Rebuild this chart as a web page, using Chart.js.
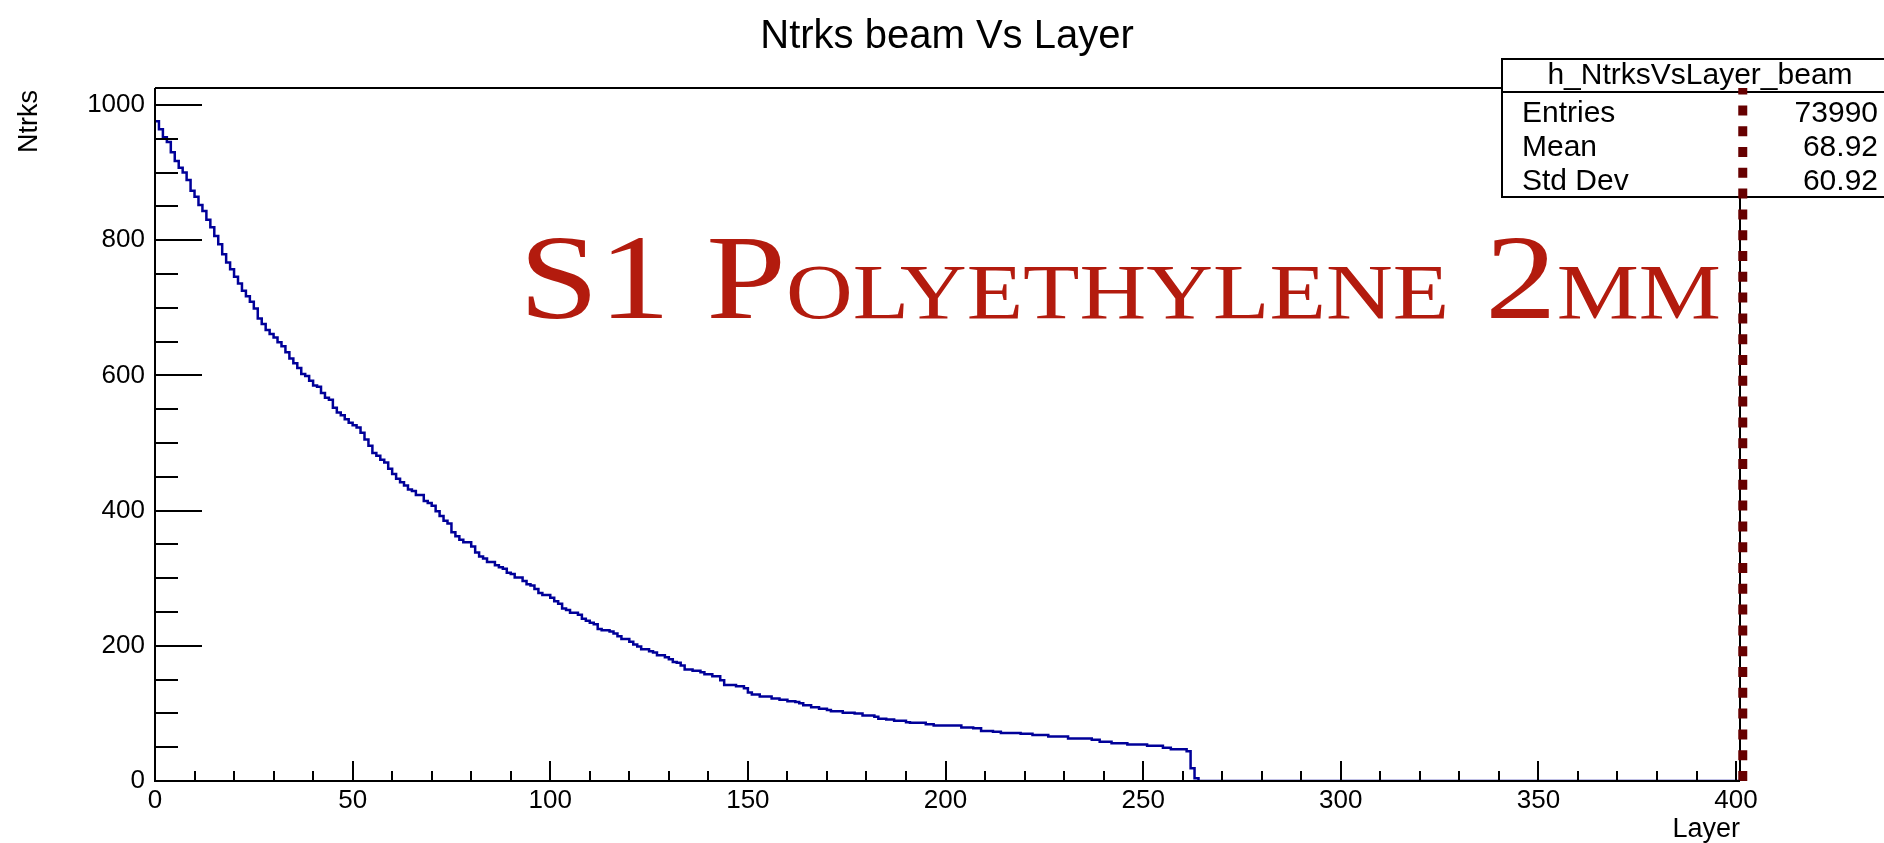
<!DOCTYPE html>
<html>
<head>
<meta charset="utf-8">
<title>Ntrks beam Vs Layer</title>
<script src="https://cdn.jsdelivr.net/npm/chart.js@4.4.1/dist/chart.umd.min.js"></script>
<style>
  html, body { margin: 0; padding: 0; background: #fff; }
  #wrap { width: 1884px; height: 843px; position: relative; }
</style>
</head>
<body>
<div id="wrap"><canvas id="plot"></canvas></div>
<script>
// Dati: conteggi per layer (bin larghi 1, da 0 a 263)
const layerCounts = [
  976, 964, 952, 945, 930, 917, 907, 900, 889, 873,
  864, 852, 843, 830, 819, 806, 794, 779, 767, 757,
  746, 736, 725, 717, 709, 699, 684, 676, 667, 661,
  656, 649, 643, 634, 625, 618, 611, 602, 599, 592,
  585, 583, 574, 567, 564, 552, 545, 541, 535, 530,
  526, 523, 515, 505, 496, 485, 481, 475, 471, 462,
  454, 447, 442, 437, 431, 429, 423, 423, 414, 411,
  407, 399, 392, 385, 381, 368, 362, 357, 353, 353,
  347, 338, 332, 329, 324, 324, 319, 316, 314, 308,
  306, 301, 301, 296, 291, 289, 284, 278, 275, 275,
  271, 266, 262, 255, 253, 249, 249, 246, 240, 237,
  234, 232, 225, 223, 223, 221, 218, 214, 210, 210,
  206, 202, 199, 195, 195, 192, 190, 186, 186, 183,
  180, 176, 175, 171, 165, 165, 163, 163, 161, 158,
  158, 155, 155, 149, 142, 142, 142, 140, 140, 137,
  131, 128, 128, 125, 125, 125, 122, 122, 120, 120,
  118, 118, 117, 115, 112, 112, 109, 109, 107, 107,
  105, 103, 103, 103, 101, 101, 101, 100, 100, 97,
  97, 97, 95, 92, 92, 91, 91, 89, 89, 89,
  87, 86, 86, 86, 86, 84, 84, 82, 82, 82,
  82, 82, 82, 82, 79, 79, 79, 78, 78, 74,
  74, 74, 73, 73, 71, 71, 71, 71, 71, 70,
  70, 70, 68, 68, 68, 68, 66, 66, 66, 66,
  66, 63, 63, 63, 63, 63, 63, 61, 61, 58,
  58, 58, 56, 56, 56, 56, 54, 54, 54, 54,
  54, 52, 52, 52, 52, 49, 49, 47, 47, 47,
  47, 44, 19, 4
];

// Assi
const xMax = 401;
const yMax = 1025;
const xTickLabels = [0, 50, 100, 150, 200, 250, 300, 350, 400];
const xMinorTicks = [10, 20, 30, 40, 60, 70, 80, 90, 110, 120, 130, 140, 160, 170, 180, 190,
  210, 220, 230, 240, 260, 270, 280, 290, 310, 320, 330, 340, 360, 370, 380, 390];
const yTickLabels = [0, 200, 400, 600, 800, 1000];
const yMinorTicks = [50, 100, 150, 250, 300, 350, 450, 500, 550, 650, 700, 750, 850, 900, 950];

// Linea tratteggiata (fine del rivelatore)
const cutLayer = [401.7];

// Box statistiche
const statsTitle = 'h_NtrksVsLayer_beam';
const statsNames = ['Entries', 'Mean', 'Std Dev'];
const statsValues = ['73990', '68.92', '60.92'];

const SANS = '"Liberation Sans", Arial, Helvetica, sans-serif';
const SERIF = '"Liberation Serif", "Times New Roman", serif';

// Punti del istogramma (bordo basso di ogni bin)
const histPoints = layerCounts.map((v, i) => ({ x: i, y: v }));
histPoints.push({ x: layerCounts.length, y: 0 });
histPoints.push({ x: xMax, y: 0 });

const cutPoints = [{ x: cutLayer[0], y: 0 }, { x: cutLayer[0], y: yMax }];

// Titolo, cornice, box statistiche e scritta grande (sotto le linee)
const backgroundPlugin = {
  id: 'rootBackground',
  beforeDatasetsDraw(chart) {
    const { ctx, chartArea: a } = chart;
    ctx.save();
    ctx.fillStyle = '#000';
    ctx.font = '40px ' + SANS;
    ctx.textAlign = 'center';
    ctx.textBaseline = 'alphabetic';
    ctx.fillText('Ntrks beam Vs Layer', 947, 48);

    ctx.strokeStyle = '#000';
    ctx.lineWidth = 2;
    ctx.beginPath();
    ctx.moveTo(a.left, a.top);
    ctx.lineTo(a.right, a.top);
    ctx.lineTo(a.right, a.bottom);
    ctx.stroke();

    // box statistiche
    const bx = 1502, by = 59, bw = 390, bh = 138, div = 92;
    ctx.fillStyle = '#fff';
    ctx.fillRect(bx, by, bw, bh);
    ctx.lineWidth = 2;
    ctx.strokeRect(bx, by, bw, bh);
    ctx.beginPath();
    ctx.moveTo(bx, div);
    ctx.lineTo(bx + bw, div);
    ctx.stroke();
    ctx.fillStyle = '#000';
    ctx.font = '30px ' + SANS;
    ctx.textAlign = 'center';
    ctx.textBaseline = 'alphabetic';
    ctx.fillText(statsTitle, 1700, 84);
    const baselines = [122, 156, 190];
    statsNames.forEach((n, i) => {
      ctx.textAlign = 'left';
      ctx.fillText(n, 1522, baselines[i]);
      ctx.textAlign = 'right';
      ctx.fillText(statsValues[i], 1878, baselines[i]);
    });

    // scritta "S1 Polyethylene 2mm" in maiuscoletto
    const parts = [
      { t: 'S1 P', s: 121 },
      { t: 'OLYETHYLENE', s: 78 },
      { t: ' 2', s: 121 },
      { t: 'MM', s: 78 }
    ];
    let total = 0;
    parts.forEach(p => {
      ctx.font = p.s + 'px ' + SERIF;
      p.w = ctx.measureText(p.t).width;
      total += p.w;
    });
    const x0 = 519, targetW = 1202, base = 318;
    const k = targetW / total;
    ctx.translate(x0, base);
    ctx.scale(k, 1);
    ctx.fillStyle = '#b31b0e';
    ctx.textAlign = 'left';
    let cx = 0;
    parts.forEach(p => {
      ctx.font = p.s + 'px ' + SERIF;
      ctx.fillText(p.t, cx, 0);
      cx += p.w;
    });
    ctx.restore();
  }
};

// Assi a sinistra e in basso con tacche verso l'interno, titoli degli assi
const axesPlugin = {
  id: 'rootAxes',
  afterDatasetsDraw(chart) {
    const { ctx, chartArea: a } = chart;
    const xs = chart.scales.x, ys = chart.scales.y;
    ctx.save();
    ctx.strokeStyle = '#000';
    ctx.lineWidth = 2;
    ctx.beginPath();
    ctx.moveTo(a.left, a.top);
    ctx.lineTo(a.left, a.bottom);
    ctx.lineTo(a.right, a.bottom);
    ctx.stroke();

    ctx.beginPath();
    yTickLabels.forEach(v => {
      const py = Math.round(ys.getPixelForValue(v));
      ctx.moveTo(a.left, py); ctx.lineTo(a.left + 47, py);
    });
    yMinorTicks.forEach(v => {
      const py = Math.round(ys.getPixelForValue(v));
      ctx.moveTo(a.left, py); ctx.lineTo(a.left + 23, py);
    });
    xTickLabels.forEach(v => {
      const px = Math.round(xs.getPixelForValue(v));
      ctx.moveTo(px, a.bottom); ctx.lineTo(px, a.bottom - 20);
    });
    xMinorTicks.forEach(v => {
      const px = Math.round(xs.getPixelForValue(v));
      ctx.moveTo(px, a.bottom); ctx.lineTo(px, a.bottom - 10);
    });
    ctx.stroke();

    ctx.fillStyle = '#000';
    ctx.font = '27px ' + SANS;
    ctx.textAlign = 'right';
    ctx.textBaseline = 'alphabetic';
    ctx.fillText('Layer', a.right, 837);

    ctx.translate(37, a.top + 2);
    ctx.rotate(-Math.PI / 2);
    ctx.fillText('Ntrks', 0, 0);
    ctx.restore();
  }
};

const tickFont = { family: SANS, size: 26 };

new Chart(document.getElementById('plot'), {
  type: 'line',
  data: {
    datasets: [
      {
        data: cutPoints,
        borderColor: '#660000',
        borderWidth: 9,
        borderDash: [10, 10.8],
        borderCapStyle: 'butt',
        pointRadius: 0,
        clip: false,
        order: 0
      },
      {
        data: histPoints,
        stepped: true,
        borderColor: '#000099',
        borderWidth: 2.5,
        pointRadius: 0,
        fill: false,
        order: 1
      }
    ]
  },
  options: {
    responsive: true,
    maintainAspectRatio: false,
    animation: false,
    devicePixelRatio: 1,
    layout: { padding: { left: 0, right: 144, top: 88, bottom: 0 } },
    plugins: {
      legend: { display: false },
      tooltip: { enabled: false },
      title: { display: false }
    },
    scales: {
      x: {
        type: 'linear',
        min: 0,
        max: xMax,
        afterBuildTicks: s => { s.ticks = xTickLabels.map(v => ({ value: v })); },
        afterFit: s => { s.height = 62; },
        ticks: { color: '#000', font: tickFont, padding: 4, maxRotation: 0, autoSkip: false,
          callback: v => String(v) },
        grid: { display: false, drawTicks: false },
        border: { display: false }
      },
      y: {
        type: 'linear',
        min: 0,
        max: yMax,
        afterBuildTicks: s => { s.ticks = yTickLabels.map(v => ({ value: v })); },
        afterFit: s => { s.width = 155; },
        ticks: { color: '#000', font: tickFont, padding: 10, autoSkip: false,
          callback: v => String(v) },
        grid: { display: false, drawTicks: false },
        border: { display: false }
      }
    }
  },
  plugins: [backgroundPlugin, axesPlugin]
});
</script>
</body>
</html>
